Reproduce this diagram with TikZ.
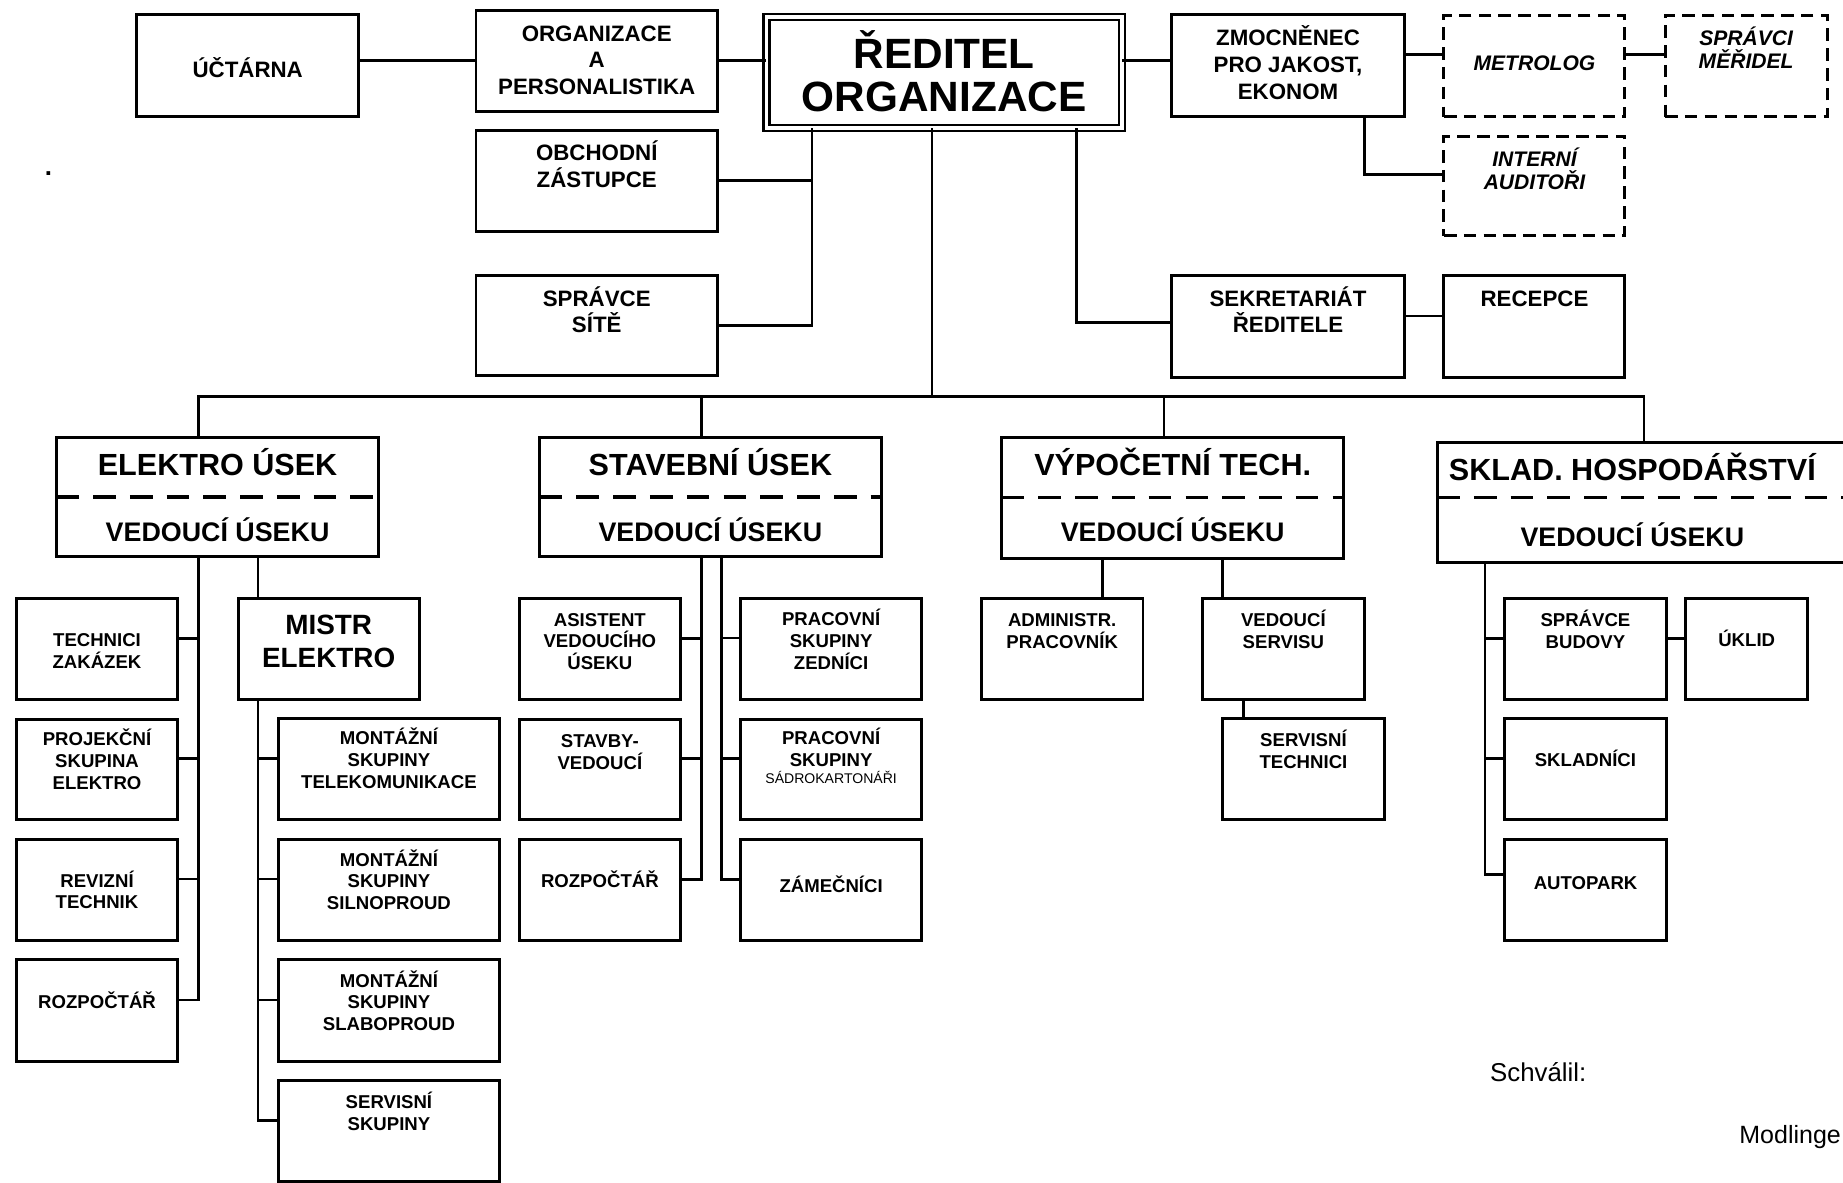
\documentclass[tikz,border=0pt]{standalone}
\usepackage{fontspec}
\setmainfont{Liberation Sans}
\usepackage{tikz}
\usetikzlibrary{positioning}

\begin{document}
\begin{tikzpicture}[x=0.02cm, y=-0.02cm,
box/.style={rectangle, draw=black, line width=1.45pt, outer sep=0pt, minimum width=2.75cm, minimum height=1.72cm},
dbox/.style={box, dash pattern=on 6.1pt off 3.5pt},
dblbox/.style={rectangle, draw=black, line width=1.1pt, double, double distance=1.8pt, outer sep=0pt},
lab/.style={anchor=base, align=center, inner sep=0pt, yshift=-#1},
toptxt/.style={lab=#1, font=\fontsize{10.8}{12.9}\selectfont\bfseries},
itxt/.style={lab=#1, font=\fontsize{10.2}{11.3}\selectfont\bfseries\itshape},
lowtxt/.style={lab=#1, font=\fontsize{9}{10.5}\selectfont\bfseries},
secttxt/.style={lab=1.78cm, font=\fontsize{14.8}{17.8}\selectfont\bfseries},
conn/.style={line width=1.3pt},
divider/.style={line width=1.6pt, dash pattern=on 11pt off 6.8pt},
plain/.style={inner sep=0pt, font=\fontsize{12.5}{15}\selectfont}
]
\useasboundingbox (0,0) rectangle (1568,1006);

% vedeni
\node[box, minimum width=3.78cm, label={[toptxt=1.07cm]north:{ÚČTÁRNA}}](uctarna) at (210.75,55.75){};
\node[box, minimum width=4.11cm, minimum height=1.71cm, label={[toptxt=1.43cm]north:{ORGANIZACE\\A\\PERSONALISTIKA}}](org) at (507.7,51.75){};
\node[box, minimum width=4.11cm, minimum height=1.71cm, label={[toptxt=0.97cm]north:{OBCHODNÍ\\ZÁSTUPCE}}](obch) at (507.7,153.85){};
\node[box, minimum width=4.11cm, minimum height=1.71cm, label={[toptxt=0.98cm]north:{SPRÁVCE\\SÍTĚ}}](sprsite) at (507.7,276.8){};
\node[dblbox, minimum width=6.05cm, minimum height=1.89cm, label={[lab=1.61cm, font=\fontsize{20.5}{21}\selectfont\bfseries]north:{ŘEDITEL\\ORGANIZACE}}](reditel) at (803.3,61.7){};
\node[box, minimum width=3.98cm, label={[toptxt=1.43cm]north:{ZMOCNĚNEC\\PRO JAKOST,\\EKONOM}}](zmocn) at (1095.8,55.75){};
\node[dbox, minimum width=3.08cm, minimum height=1.73cm, label={[itxt=0.95cm]north:{METROLOG}}](metrolog) at (1305.5,56.05){};
\node[dbox, minimum width=2.76cm, minimum height=1.73cm, label={[itxt=0.91cm]north:{SPRÁVCI\\MĚŘIDEL}}](spravci) at (1485.55,56.05){};
\node[dbox, minimum width=3.08cm, minimum height=1.70cm, label={[itxt=0.91cm]north:{INTERNÍ\\AUDITOŘI}}](interni) at (1305.5,158.25){};
\node[box, minimum width=3.98cm, minimum height=1.73cm, label={[toptxt=0.97cm]north:{SEKRETARIÁT\\ŘEDITELE}}](sekret) at (1095.8,278.05){};
\node[box, minimum width=3.08cm, minimum height=1.73cm, label={[toptxt=0.52cm]north:{RECEPCE}}](recepce) at (1305.5,278.05){};

% useky
\node[box, minimum width=5.49cm, minimum height=2.03cm, label={[secttxt]north:{ELEKTRO ÚSEK\\[14.5pt]{\fontsize{13}{15}\selectfont VEDOUCÍ ÚSEKU}}}](elektro) at (185.1,422.8){};
\node[box, minimum width=5.81cm, minimum height=2.03cm, label={[secttxt]north:{STAVEBNÍ ÚSEK\\[14.5pt]{\fontsize{13}{15}\selectfont VEDOUCÍ ÚSEKU}}}](stavebni) at (604.4,422.8){};
\node[box, minimum width=5.82cm, minimum height=2.06cm, label={[secttxt]north:{VÝPOČETNÍ TECH.\\[14.5pt]{\fontsize{13}{15}\selectfont VEDOUCÍ ÚSEKU}}}](vypocet) at (997.7,423.5){};
\node[box, minimum width=7.05cm, minimum height=2.05cm, label={[secttxt, xshift=-0.2cm]north:{SKLAD. HOSPODÁŘSTVÍ\\[14.5pt]{\fontsize{13}{15}\selectfont VEDOUCÍ ÚSEKU}}}](sklad) at (1398.8,427.5){};

% elektro
\node[box, label={[lowtxt=1.19cm]north:{TECHNICI\\ZAKÁZEK}}](techn) at (82.55,552){};
\node[box, minimum height=1.70cm, label={[lowtxt=1.19cm]north:{PROJEKČNÍ\\SKUPINA\\ELEKTRO}}](projek) at (82.55,654.5){};
\node[box, label={[lowtxt=1.19cm]north:{REVIZNÍ\\TECHNIK}}](reviz) at (82.55,756.85){};
\node[box, label={[lowtxt=0.82cm]north:{ROZPOČTÁŘ}}](rozp1) at (82.55,859.7){};
\node[box, minimum width=3.08cm, label={[lab=1.17cm, font=\fontsize{13.5}{15.6}\selectfont\bfseries]north:{MISTR\\ELEKTRO}}](mistr) at (279.6,552){};
\node[box, minimum width=3.76cm, label={[lowtxt=1.19cm]north:{MONTÁŽNÍ\\SKUPINY\\TELEKOMUNIKACE}}](tele) at (330.9,654.1){};
\node[box, minimum width=3.76cm, label={[lowtxt=1.2cm]north:{MONTÁŽNÍ\\SKUPINY\\SILNOPROUD}}](silno) at (330.9,756.85){};
\node[box, minimum width=3.76cm, label={[lowtxt=1.2cm]north:{MONTÁŽNÍ\\SKUPINY\\SLABOPROUD}}](slabo) at (330.9,859.7){};
\node[box, minimum width=3.76cm, label={[lowtxt=0.85cm]north:{SERVISNÍ\\SKUPINY}}](servsk) at (330.9,962.35){};

% stavebni
\node[box, label={[lowtxt=1.21cm]north:{ASISTENT\\VEDOUCÍHO\\ÚSEKU}}](asist) at (510.35,552){};
\node[box, minimum height=1.70cm, label={[lowtxt=0.85cm]north:{STAVBY-\\VEDOUCÍ}}](stavby) at (510.35,654.5){};
\node[box, label={[lowtxt=0.82cm]north:{ROZPOČTÁŘ}}](rozp2) at (510.35,757){};
\node[box, minimum width=3.08cm, label={[lowtxt=1.21cm]north:{PRACOVNÍ\\SKUPINY\\ZEDNÍCI}}](zedn) at (707.1,551.85){};
\node[box, minimum width=3.08cm, minimum height=1.70cm, label={[lowtxt=1.1cm]north:{PRACOVNÍ\\SKUPINY\\[-2pt]{\fontsize{6.8}{8}\selectfont\mdseries SÁDROKARTONÁŘI}}}](sadro) at (707.1,654.5){};
\node[box, minimum width=3.08cm, label={[lowtxt=0.91cm]north:{ZÁMEČNÍCI}}](zamec) at (707.1,757.15){};

% vypocetni technika
\node[box, label={[lowtxt=0.85cm]north:{ADMINISTR.\\PRACOVNÍK}}](admin) at (903.7,552){};
\node[box, label={[lowtxt=0.85cm]north:{VEDOUCÍ\\SERVISU}}](vedserv) at (1091.85,552){};
\node[box, label={[lowtxt=0.85cm]north:{SERVISNÍ\\TECHNICI}}](servtech) at (1108.95,654){};

% skladove hospodarstvi
\node[box, label={[lowtxt=0.85cm]north:{SPRÁVCE\\BUDOVY}}](sprbud) at (1348.85,552){};
\node[box, minimum width=2.07cm, label={[lowtxt=0.82cm]north:{ÚKLID}}](uklid) at (1486.05,552){};
\node[box, label={[lowtxt=0.82cm]north:{SKLADNÍCI}}](skladnici) at (1348.85,654.1){};
\node[box, label={[lowtxt=0.86cm]north:{AUTOPARK}}](autopark) at (1349,757.15){};

\node[plain, anchor=base, font=\fontsize{12.5}{15}\selectfont\bfseries](tecka) at (41.3,149.5){.};
\node[plain, anchor=base west](schvalil) at (1267.5,920.2){Schválil:};
\node[plain, anchor=base west, font=\fontsize{12.1}{15}\selectfont](misto) at (1479.5,972.7){Modlinge};

% delici cary
\draw[divider] (elektro.west) -- (elektro.east);
\draw[divider] (stavebni.west) -- (stavebni.east);
\draw[divider] (vypocet.west) -- (vypocet.east);
\draw[divider] ([yshift=0.09cm]sklad.west) -- ([yshift=0.09cm]sklad.east);

% vazby vedeni
\draw[conn] (org.west) -- (org.west -| uctarna.east);
\draw[conn] (org.east) -- (org.east -| reditel.west);
\draw[conn] (reditel.east |- org.east) -- (zmocn.west |- org.east);
\draw[conn] ([yshift=0.19cm]zmocn.east) -- ([yshift=0.19cm]zmocn.east -| metrolog.west);
\draw[conn] ([yshift=0.19cm]metrolog.east) -- ([yshift=0.19cm]metrolog.east -| spravci.west);
\draw[conn] ([xshift=1.3cm]zmocn.south) |- ([yshift=0.19cm]interni.west);
\draw[conn] ([xshift=-2.25cm]reditel.south) |- (sprsite.east);
\draw[conn] (obch.east) -- ([xshift=-2.25cm]reditel.south |- obch.east);
\draw[conn] ([xshift=2.25cm]reditel.south) |- ([yshift=0.07cm]sekret.west);
\draw[conn] ([yshift=0.185cm]sekret.east) -- ([yshift=0.185cm]sekret.east -| recepce.west);

% hlavni sbernice
\coordinate (bus) at (793,337.5);
\draw[conn] (reditel.south -| bus) -- (bus);
\draw[conn] ([xshift=-0.33cm]elektro.north) |- (bus) -| (sklad.north);
\draw[conn] ([xshift=-0.15cm]stavebni.north) -- ([xshift=-0.15cm]stavebni.north |- bus);
\draw[conn] ([xshift=-0.15cm]vypocet.north) -- ([xshift=-0.15cm]vypocet.north |- bus);

% elektro
\coordinate (el_spine) at ([xshift=-0.33cm]elektro.south);
\draw[conn] (el_spine) |- ([yshift=0.18cm]rozp1.east);
\draw[conn] ([yshift=0.18cm]techn.east) -- ([yshift=0.18cm]techn.east -| el_spine);
\draw[conn] ([yshift=0.18cm]projek.east) -- ([yshift=0.18cm]projek.east -| el_spine);
\draw[conn] ([yshift=0.18cm]reviz.east) -- ([yshift=0.18cm]reviz.east -| el_spine);
\draw[conn] ([xshift=-1.2cm]mistr.north) -- ([xshift=-1.2cm]mistr.north |- elektro.south);
\coordinate (mi_spine) at ([xshift=-1.2cm]mistr.south);
\draw[conn] (mi_spine) |- ([yshift=0.18cm]servsk.west);
\draw[conn] ([yshift=0.18cm]tele.west) -- ([yshift=0.18cm]tele.west -| mi_spine);
\draw[conn] ([yshift=0.18cm]silno.west) -- ([yshift=0.18cm]silno.west -| mi_spine);
\draw[conn] ([yshift=0.18cm]slabo.west) -- ([yshift=0.18cm]slabo.west -| mi_spine);

% stavebni
\coordinate (st_left) at ([xshift=-0.15cm]stavebni.south);
\coordinate (st_right) at ([xshift=0.19cm]stavebni.south);
\draw[conn] (st_left) |- ([yshift=0.18cm]rozp2.east);
\draw[conn] ([yshift=0.18cm]asist.east) -- ([yshift=0.18cm]asist.east -| st_left);
\draw[conn] ([yshift=0.18cm]stavby.east) -- ([yshift=0.18cm]stavby.east -| st_left);
\draw[conn] (st_right) |- ([yshift=0.18cm]zamec.west);
\draw[conn] ([yshift=0.18cm]zedn.west) -- ([yshift=0.18cm]zedn.west -| st_right);
\draw[conn] ([yshift=0.18cm]sadro.west) -- ([yshift=0.18cm]sadro.west -| st_right);

% vypocetni technika
\draw[conn] ([xshift=0.68cm]admin.north) -- ([xshift=0.68cm]admin.north |- vypocet.south);
\draw[conn] ([xshift=-1.03cm]vedserv.north) -- ([xshift=-1.03cm]vedserv.north |- vypocet.south);
\draw[conn] ([xshift=-1.02cm]servtech.north) -- ([xshift=-1.02cm]servtech.north |- vedserv.south);

% sklad
\coordinate (sk_spine) at ([xshift=-2.71cm]sklad.south);
\draw[conn] (sk_spine) |- ([yshift=0.265cm]autopark.west);
\draw[conn] ([yshift=0.18cm]sprbud.west) -- ([yshift=0.18cm]sprbud.west -| sk_spine);
\draw[conn] ([yshift=0.18cm]skladnici.west) -- ([yshift=0.18cm]skladnici.west -| sk_spine);
\draw[conn] ([yshift=0.18cm]sprbud.east) -- ([yshift=0.18cm]sprbud.east -| uklid.west);

\end{tikzpicture}
\end{document}
